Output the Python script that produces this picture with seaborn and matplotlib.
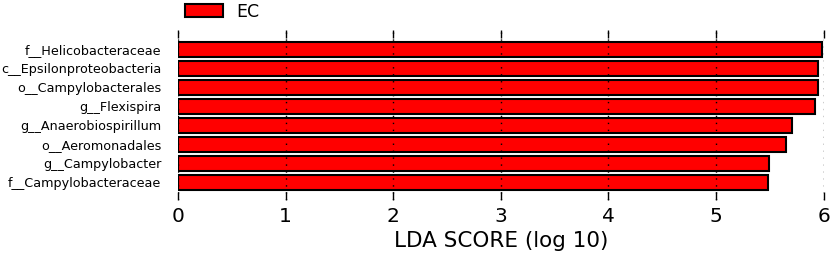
import pandas as pd
import seaborn as sns
import matplotlib.pyplot as plt
from matplotlib.patches import Patch

# LEfSe LDA scores, top to bottom
taxa = [
    "f__Helicobacteraceae",
    "c__Epsilonproteobacteria",
    "o__Campylobacterales",
    "g__Flexispira",
    "g__Anaerobiospirillum",
    "o__Aeromonadales",
    "g__Campylobacter",
    "f__Campylobacteraceae",
]
lda_scores = [5.98, 5.95, 5.95, 5.92, 5.71, 5.65, 5.49, 5.48]
group = "EC"

df = pd.DataFrame({"taxon": taxa, "lda": lda_scores})

sns.set_style("white")
plt.rcParams["text.color"] = "black"
plt.rcParams["xtick.color"] = "black"
plt.rcParams["ytick.color"] = "black"
plt.rcParams["axes.labelcolor"] = "black"

fig = plt.figure(figsize=(8.32, 2.62), dpi=100)
ax = fig.add_axes([0.214, 0.237, 0.776, 0.648])

sns.barplot(data=df, x="lda", y="taxon", orient="h", color="#ff0000",
            saturation=1, edgecolor="black", linewidth=1.5, width=0.8, ax=ax)

ax.set_xlim(0, 6)
ax.set_ylim(7.93, -1.0)
ax.set_xticks(range(0, 7))
ax.set_axisbelow(False)
ax.grid(axis="x", color="black", linestyle=(0, (1, 4)), linewidth=1)
for s in ax.spines.values():
    s.set_visible(False)

ax.tick_params(axis="x", which="major", direction="in", length=6, width=1,
               top=True, bottom=True, labelsize=14.5, pad=5)
ax.tick_params(axis="y", length=0, labelsize=9.2, pad=12)
ax.set_xlabel("LDA SCORE (log 10)", fontsize=15.5, labelpad=4)
ax.set_ylabel("")

handles = [Patch(facecolor="#ff0000", edgecolor="black", linewidth=1.5, label=group)]
fig.legend(handles=handles, loc="upper left", bbox_to_anchor=(0.203, 1.05),
           frameon=False, fontsize=12.5, handlelength=2.2, handleheight=0.75,
           handletextpad=0.8)

fig.savefig("out.png", dpi=100)
